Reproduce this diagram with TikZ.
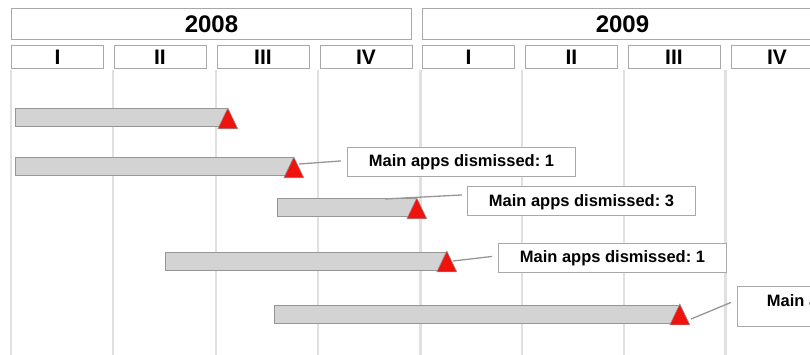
\documentclass[tikz,border=0pt]{standalone}
\usepackage{fontspec}
\setmainfont{Liberation Sans}
\usetikzlibrary{calc}
\definecolor{gridgray}{RGB}{224,224,224}
\definecolor{barfill}{RGB}{211,211,211}
\definecolor{edgegray}{RGB}{150,150,150}
\definecolor{boxgray}{RGB}{168,168,168}
\definecolor{markred}{RGB}{240,18,12}
\frenchspacing
\begin{document}
\begin{tikzpicture}[x=1pt,y=-1pt,
  yearbox/.style={draw=boxgray, line width=0.9pt, fill=white, minimum width=400pt,
    minimum height=31pt, inner sep=0pt, font=\fontsize{24}{28}\selectfont\bfseries},
  qbox/.style={draw=boxgray, line width=0.9pt, fill=white, minimum width=92pt,
    minimum height=23pt, inner sep=0pt, font=\fontsize{21}{24}\selectfont\bfseries},
  gridline/.style={draw=gridgray, line width=2.2pt},
  bar/.style={draw=edgegray, fill=barfill, line width=0.8pt, inner sep=0pt,
    minimum height=18pt, anchor=north west},
  marker/.style={draw=edgegray, fill=markred, line width=0.6pt, line join=round},
  leader/.style={draw=edgegray, line width=1.3pt},
  labelbox/.style={draw=boxgray, line width=0.9pt, fill=white, minimum width=228pt,
    minimum height=29pt, inner sep=0pt, anchor=north west, text height=12pt,
    text depth=2pt, font=\fontsize{16.5}{19}\selectfont\bfseries}
]
\useasboundingbox (0,0) rectangle (810,355);
\clip (0,0) rectangle (810,355);

% year headers
\node[yearbox, anchor=north west] (y2008) at (11,8) {2008};
\node[yearbox, anchor=north west] (y2009) at (422,8) {2009};

% quarter headers
\node[qbox, anchor=north west] (q1) at (11,45.5) {I};
\node[qbox, anchor=north west] (q2) at (113.5,45.5) {II};
\node[qbox, anchor=north west] (q3) at (216.5,45.5) {III};
\node[qbox, anchor=north west] (q4) at (319.5,45.5) {IV};
\node[qbox, anchor=north west] (q5) at (422,45.5) {I};
\node[qbox, anchor=north west] (q6) at (525,45.5) {II};
\node[qbox, anchor=north west] (q7) at (627.5,45.5) {III};
\node[qbox, anchor=north west] (q8) at (730.5,45.5) {IV};

% quarter grid
\foreach \gx in {11,112.7,216,317.7,420.5,521.7,624,725.5}
  \draw[gridline] (\gx,70) -- (\gx,355);

% bars
\node[bar, minimum width=212pt] (b1) at (15,108.5) {};
\node[bar, minimum width=278pt] (b2) at (15,157.5) {};
\node[bar, minimum width=139pt] (b3) at (277,198.5) {};
\node[bar, minimum width=281pt] (b4) at (165,251.5) {};
\node[bar, minimum width=405pt] (b5) at (274,304.5) {};

% labels
\node[labelbox] (l2) at (347,147) {Main apps dismissed: 1};
\node[labelbox] (l3) at (467,186.5) {Main apps dismissed: 3};
\node[labelbox] (l4) at (498,243) {Main apps dismissed: 1};
\node[labelbox, minimum width=244pt, minimum height=40pt, text depth=12pt] (l5) at (737,286) {Main apps dismissed: 1};

% leader lines
\coordinate (s2) at (299,164);
\coordinate (s3) at (385,199);
\coordinate (s4) at (453,261);
\coordinate (s5) at (691,319);
\draw[leader] (s2) -- ($(l2.west)+(-6,-1)$);
\draw[leader] (s3) -- ($(l3.west)+(-5,-6.5)$);
\draw[leader] (s4) -- ($(l4.west)+(-6,-1.5)$);
\draw[leader] (s5) -- ($(l5.west)+(-6,-4)$);

% end markers
\foreach \b in {b1,b2,b3,b4,b5}
  \draw[marker] ($(\b.north east)+(0,-0.5)$) -- ($(\b.south east)+(10,1.5)$)
    -- ($(\b.south east)+(-10,1.5)$) -- cycle;
\end{tikzpicture}
\end{document}
